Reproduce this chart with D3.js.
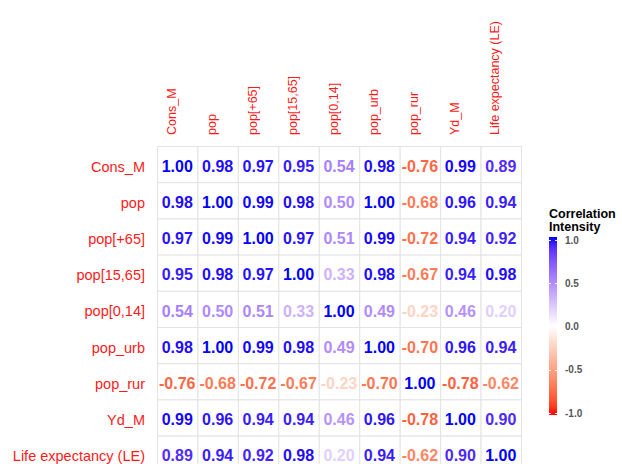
<!DOCTYPE html>
<html>
<head>
<meta charset="utf-8">
<script src="https://cdn.jsdelivr.net/npm/d3@7"></script>
<style>
  html, body { margin: 0; padding: 0; background: #ffffff; }
  svg { display: block; font-family: "Liberation Sans", Arial, sans-serif; }
</style>
</head>
<body>
<svg id="chart" width="622" height="464"></svg>
<script>
// Variables of the correlation matrix (rows top→bottom, columns left→right)
const variables = ["Cons_M", "pop", "pop[+65]", "pop[15,65]", "pop[0,14]",
                   "pop_urb", "pop_rur", "Yd_M", "Life expectancy (LE)"];

// Pairwise correlation coefficients, one array per row variable
const rowConsM = [1.00, 0.98, 0.97, 0.95, 0.54, 0.98, -0.76, 0.99, 0.89];
const rowPop   = [0.98, 1.00, 0.99, 0.98, 0.50, 1.00, -0.68, 0.96, 0.94];
const rowPop65 = [0.97, 0.99, 1.00, 0.97, 0.51, 0.99, -0.72, 0.94, 0.92];
const rowPop1565 = [0.95, 0.98, 0.97, 1.00, 0.33, 0.98, -0.67, 0.94, 0.98];
const rowPop014 = [0.54, 0.50, 0.51, 0.33, 1.00, 0.49, -0.23, 0.46, 0.20];
const rowPopUrb = [0.98, 1.00, 0.99, 0.98, 0.49, 1.00, -0.70, 0.96, 0.94];
const rowPopRur = [-0.76, -0.68, -0.72, -0.67, -0.23, -0.70, 1.00, -0.78, -0.62];
const rowYdM   = [0.99, 0.96, 0.94, 0.94, 0.46, 0.96, -0.78, 1.00, 0.90];
const rowLE    = [0.89, 0.94, 0.92, 0.98, 0.20, 0.94, -0.62, 0.90, 1.00];

const corrRows = [rowConsM, rowPop, rowPop65, rowPop1565, rowPop014,
                  rowPopUrb, rowPopRur, rowYdM, rowLE];

// Legend ticks
const legendTicks = [-1, -0.5, 0, 0.5, 1];
const legendTitle = ["Correlation", "Intensity"];

// Flatten to cells
const cells = [];
corrRows.forEach((row, i) => row.forEach((v, j) => {
  cells.push({ row: variables[i], col: variables[j], value: v });
}));

const svg = d3.select("#chart");

// Layout
const gridLeft = 157, gridRight = 521, gridTop = 146, cellH = 36.2;

const x = d3.scaleBand().domain(variables).range([gridLeft, gridRight]);
const y = d3.scaleBand().domain(variables)
  .range([gridTop, gridTop + cellH * variables.length]);

// Diverging colour: red (-1) → white (0) → blue (+1), interpolated in Lab
const color = d3.scaleLinear()
  .domain([-1, 0, 1])
  .range(["#ff0000", "#ffffff", "#0000ff"])
  .interpolate(d3.interpolateLab)
  .clamp(true);

// Tiles
svg.append("g")
  .selectAll("rect")
  .data(cells)
  .join("rect")
  .attr("x", d => x(d.col) + 0.5)
  .attr("y", d => y(d.row) + 0.5)
  .attr("width", x.bandwidth())
  .attr("height", y.bandwidth())
  .attr("fill", "#ffffff")
  .attr("stroke", "#e3e3e3")
  .attr("stroke-width", 1);

// Coefficient labels
svg.append("g")
  .selectAll("text")
  .data(cells)
  .join("text")
  .attr("x", d => x(d.col) + x.bandwidth() / 2)
  .attr("y", d => y(d.row) + y.bandwidth() / 2 + 7.6)
  .attr("text-anchor", "middle")
  .attr("font-size", 16)
  .attr("font-weight", "bold")
  .attr("fill", d => color(d.value))
  .text(d => d.value.toFixed(2));

// Row labels
const yAxis = svg.append("g")
  .attr("transform", `translate(${gridLeft},0)`)
  .call(d3.axisLeft(y).tickSize(0).tickPadding(12));
yAxis.select(".domain").remove();
yAxis.selectAll("text")
  .attr("font-size", 14.5)
  .attr("font-family", "Liberation Sans, Arial, sans-serif")
  .attr("fill", "#ff1a1a")
  .attr("dy", "0.52em");

// Column labels (vertical)
const xAxis = svg.append("g")
  .attr("transform", `translate(0,${gridTop})`)
  .call(d3.axisTop(x).tickSize(0));
xAxis.select(".domain").remove();
xAxis.selectAll("text")
  .attr("font-size", 12.5)
  .attr("font-family", "Liberation Sans, Arial, sans-serif")
  .attr("fill", "#ff1a1a")
  .attr("text-anchor", "start")
  .attr("transform", "rotate(-90)")
  .attr("x", 11)
  .attr("y", -1.5)
  .attr("dy", "0");

// Colour bar legend
const barX = 549, barW = 8, barTop = 237, barBottom = 415;
const legendScale = d3.scaleLinear().domain([1, -1]).range([240, 413]);

const defs = svg.append("defs");
const grad = defs.append("linearGradient")
  .attr("id", "corrGrad")
  .attr("x1", 0).attr("y1", 1).attr("x2", 0).attr("y2", 0);
d3.range(0, 1.0001, 0.05).forEach(t => {
  grad.append("stop")
    .attr("offset", t)
    .attr("stop-color", color(-1 + 2 * t));
});

svg.append("rect")
  .attr("x", barX).attr("y", barTop)
  .attr("width", barW).attr("height", barBottom - barTop)
  .attr("fill", "url(#corrGrad)");

// Legend ticks (white, on both sides of the bar)
svg.append("g")
  .selectAll("path")
  .data(legendTicks)
  .join("path")
  .attr("d", d => {
    const yy = Math.round(legendScale(d)) + 0.5;
    return `M${barX},${yy}h1.8M${barX + barW - 1.8},${yy}h1.8`;
  })
  .attr("stroke", "#ffffff")
  .attr("stroke-width", 1);

const legendAxis = svg.append("g")
  .attr("transform", `translate(${barX + barW},0)`)
  .call(d3.axisRight(legendScale)
    .tickValues(legendTicks)
    .tickFormat(d => d.toFixed(1))
    .tickSize(0)
    .tickPadding(8));
legendAxis.select(".domain").remove();
legendAxis.selectAll("text")
  .attr("font-size", 10)
  .attr("font-weight", "bold")
  .attr("font-family", "Liberation Sans, Arial, sans-serif")
  .attr("fill", "#555555");

// Legend title
svg.append("text")
  .attr("x", barX)
  .attr("y", 218)
  .attr("font-size", 12.5)
  .attr("font-weight", "bold")
  .attr("fill", "#000000")
  .selectAll("tspan")
  .data(legendTitle)
  .join("tspan")
  .attr("x", barX)
  .attr("dy", (d, i) => i === 0 ? 0 : 12.5)
  .text(d => d);
</script>
</body>
</html>
